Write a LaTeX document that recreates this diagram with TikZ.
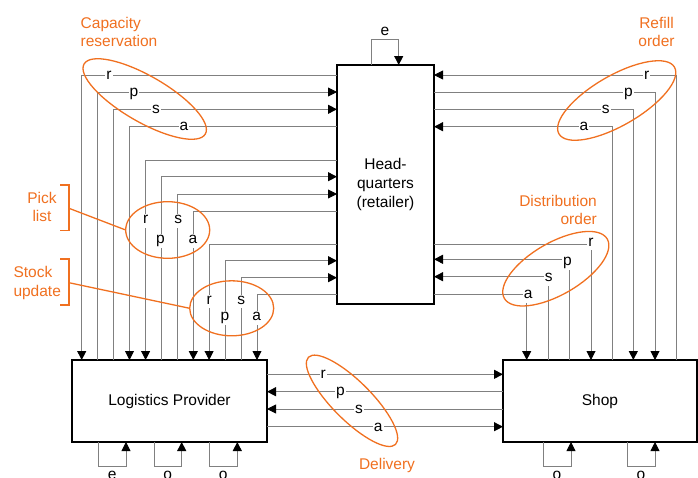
\documentclass[tikz,border=0pt]{standalone}
\usepackage{fontspec}
\setmainfont{Liberation Sans}
\usetikzlibrary{arrows.meta}
\definecolor{org}{RGB}{240,112,32}
\definecolor{lgray}{RGB}{128,128,128}
\begin{document}
\begin{tikzpicture}[x=1pt,y=-1pt,
  font=\fontsize{15.5}{18.8}\selectfont,
  box/.style={draw=black,line width=1.5pt,fill=white,inner sep=0pt,outer sep=0pt,align=center},
  conn/.style={draw=lgray,line width=0.9pt},
  arr/.style={-{Triangle[length=9pt,width=9pt,color=black]}},
  lbl/.style={fill=white,inner sep=1pt,text=black,text height=8.5pt,text depth=3pt,yshift=-1.25pt},
  tag/.style={text=black,inner sep=0pt,text height=8pt,text depth=0pt},
  note/.style={text=org,inner sep=0pt},
  ring/.style={draw=org,line width=1.3pt},
]
\useasboundingbox (0,0) rectangle (698,477);
\clip (0,0) rectangle (698,477);

% boxes
\node[box,minimum width=97pt,minimum height=239pt] (hq) at (385.5,184.5) {Head-\\quarters\\(retailer)};
\node[box,minimum width=195pt,minimum height=82pt] (lp) at (169.5,401) {Logistics Provider};
\node[box,minimum width=194pt,minimum height=82pt] (shop) at (600,401) {Shop};

% capacity reservation
\draw[conn,arr] (hq.west |- 0,75) -| (lp.north -| 81.7,0);
\draw[conn,arr] (lp.north -| 97.6,0) |- (hq.west |- 0,92);
\draw[conn,arr] (lp.north -| 113.6,0) |- (hq.west |- 0,109.3);
\draw[conn,arr] (hq.west |- 0,126.7) -| (lp.north -| 129.5,0);
% pick list
\draw[conn,arr] (hq.west |- 0,160) -| (lp.north -| 145.6,0);
\draw[conn,arr] (lp.north -| 161.6,0) |- (hq.west |- 0,176.7);
\draw[conn,arr] (lp.north -| 177.3,0) |- (hq.west |- 0,194);
\draw[conn,arr] (hq.west |- 0,211) -| (lp.north -| 193.3,0);
% stock update
\draw[conn,arr] (hq.west |- 0,244) -| (lp.north -| 209.1,0);
\draw[conn,arr] (lp.north -| 225.4,0) |- (hq.west |- 0,260.7);
\draw[conn,arr] (lp.north -| 241.2,0) |- (hq.west |- 0,277.7);
\draw[conn,arr] (hq.west |- 0,294.3) -| (lp.north -| 257,0);

% refill order
\draw[conn,arr] (shop.north -| 676,0) |- (hq.east |- 0,75);
\draw[conn,arr] (hq.east |- 0,92) -| (shop.north -| 655,0);
\draw[conn,arr] (hq.east |- 0,109.3) -| (shop.north -| 633.3,0);
\draw[conn,arr] (shop.north -| 612.7,0) |- (hq.east |- 0,126.7);
% distribution order
\draw[conn,arr] (hq.east |- 0,244.3) -| (shop.north -| 591,0);
\draw[conn,arr] (shop.north -| 569.3,0) |- (hq.east |- 0,259.3);
\draw[conn,arr] (shop.north -| 548.3,0) |- (hq.east |- 0,276.7);
\draw[conn,arr] (hq.east |- 0,294.3) -| (shop.north -| 526.7,0);

% delivery
\draw[conn,arr] (lp.east |- 0,374.3) -- (shop.west |- 0,374.3);
\draw[conn,arr] (shop.west |- 0,391.7) -- (lp.east |- 0,391.7);
\draw[conn,arr] (shop.west |- 0,409) -- (lp.east |- 0,409);
\draw[conn,arr] (lp.east |- 0,426.7) -- (shop.west |- 0,426.7);

% self loops
\draw[conn,arr] (hq.north -| 371,0) |- (398.7,39.3) -- (hq.north -| 398.7,0);
\draw[conn,arr] (lp.south -| 98.7,0) |- (126,466.7) -- (lp.south -| 126,0);
\draw[conn,arr] (lp.south -| 154,0) |- (181.7,466.7) -- (lp.south -| 181.7,0);
\draw[conn,arr] (lp.south -| 209.3,0) |- (237.3,466.7) -- (lp.south -| 237.3,0);
\draw[conn,arr] (shop.south -| 543.3,0) |- (571,466.7) -- (shop.south -| 571,0);
\draw[conn,arr] (shop.south -| 627.3,0) |- (655,466.7) -- (shop.south -| 655,0);
\node[tag] (le0) at (385,31) {e};
\node[tag] (le1) at (112.3,475.7) {e};
\node[tag] (le2) at (167.8,475.7) {o};
\node[tag] (le3) at (223.3,475.7) {o};
\node[tag] (le4) at (557,475.7) {o};
\node[tag] (le5) at (641,475.7) {o};

% letter labels
\node[lbl] (c1) at (109,75) {r};
\node[lbl] (c2) at (134,92) {p};
\node[lbl] (c3) at (156,109.3) {s};
\node[lbl] (c4) at (184,126.7) {a};
\node[lbl] (k1) at (145.6,219.5) {r};
\node[lbl] (k2) at (160.5,239.5) {p};
\node[lbl] (k3) at (178.3,219.5) {s};
\node[lbl] (k4) at (193,239.5) {a};
\node[lbl] (u1) at (209.1,300) {r};
\node[lbl] (u2) at (225,316.5) {p};
\node[lbl] (u3) at (241.2,300) {s};
\node[lbl] (u4) at (256.7,316.5) {a};
\node[lbl] (f1) at (646.7,75) {r};
\node[lbl] (f2) at (628.3,92) {p};
\node[lbl] (f3) at (605.7,109.3) {s};
\node[lbl] (f4) at (584,126.7) {a};
\node[lbl] (d1) at (591,242) {r};
\node[lbl] (d2) at (567.5,261.5) {p};
\node[lbl] (d3) at (548.7,277.8) {s};
\node[lbl] (d4) at (528.3,294.5) {a};
\node[lbl] (v1) at (323.3,374.3) {r};
\node[lbl] (v2) at (340.5,391.7) {p};
\node[lbl] (v3) at (359,409.3) {s};
\node[lbl] (v4) at (378.3,427) {a};

% ellipses
\draw[ring,rotate around={-30:(144.7,99)}] (144.7,99) ellipse [x radius=70pt,y radius=23pt];
\draw[ring,rotate around={30:(616.7,100.5)}] (616.7,100.5) ellipse [x radius=66.7pt,y radius=25pt];
\draw[ring,rotate around={30:(555.8,268.7)}] (555.8,268.7) ellipse [x radius=59.4pt,y radius=26pt];
\draw[ring,rotate around={-45:(352,400.8)}] (352,400.8) ellipse [x radius=61.6pt,y radius=19.4pt];
\draw[ring] (167.7,230) ellipse [x radius=42pt,y radius=28.3pt];
\draw[ring] (231.7,308.3) ellipse [x radius=42pt,y radius=27.5pt];

% brackets
\draw[ring] (60,185) -- (69,185) -- (69,230.7) -- (60,230.7);
\draw[ring] (69,208.3) -- (125.7,230);
\draw[ring] (60,259) -- (69,259) -- (69,305) -- (60,305);
\draw[ring] (69,282.7) -- (189.7,308.3);

% notes
\node[note,align=left,anchor=west] (cap) at (80.5,32) {Capacity\\reservation};
\node[note,align=center] (ref) at (656.5,32) {Refill\\order};
\node[note,align=right,anchor=east] (dist) at (597,210) {Distribution\\order};
\node[note,align=center] (pick) at (42,207) {Pick\\list};
\node[note,align=left,anchor=west] (stock) at (13.3,282.7) {Stock\\update};
\node[note,anchor=base] (del) at (387,469) {Delivery};
\end{tikzpicture}
\end{document}
